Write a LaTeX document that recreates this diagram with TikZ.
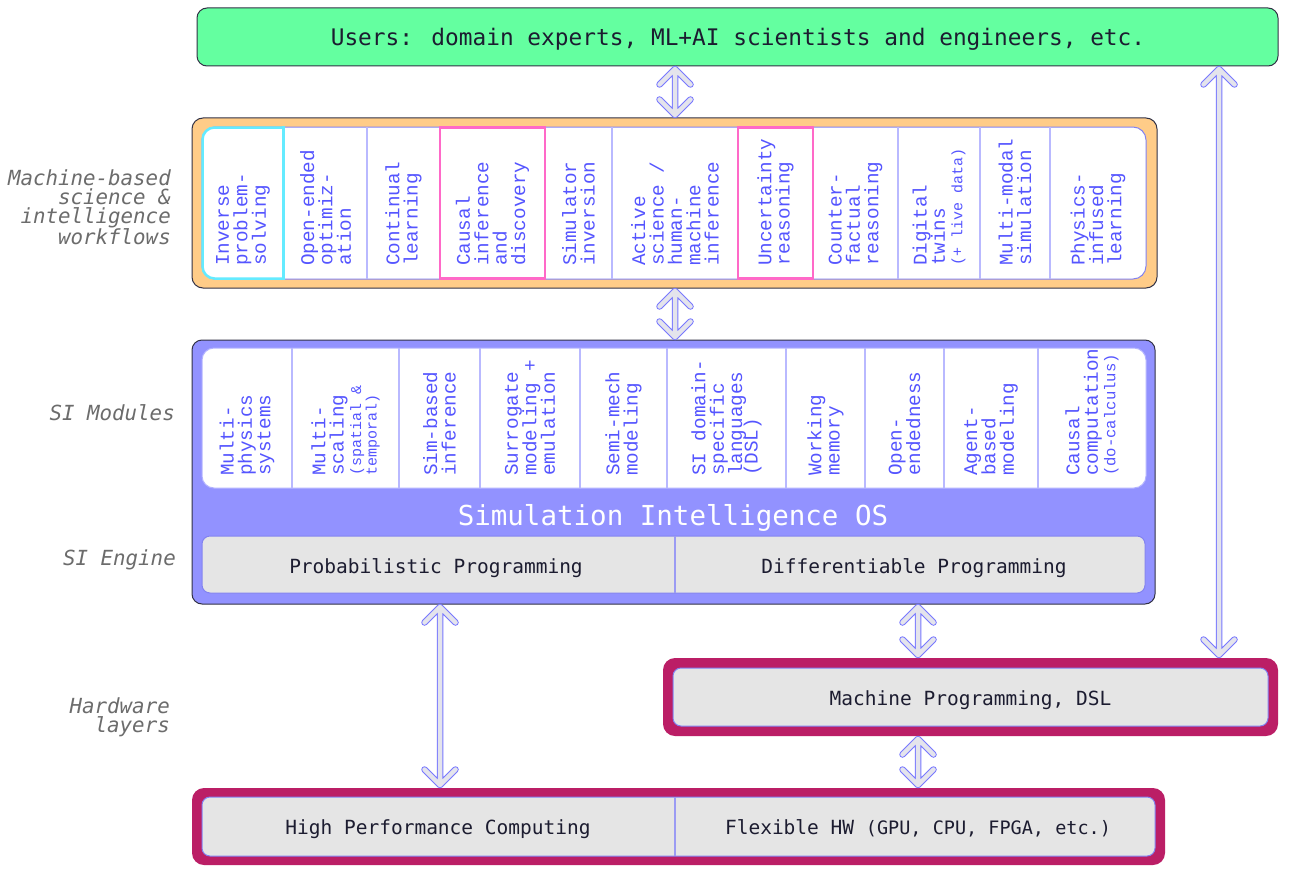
\documentclass[tikz,border=0pt]{standalone}
\usepackage{fontspec}
\setmainfont{DejaVu Sans Mono}
\newfontfamily\cour{Liberation Mono}
\usetikzlibrary{calc}
\definecolor{ugreen}{RGB}{100,255,160}
\definecolor{worange}{RGB}{255,204,136}
\definecolor{siblue}{RGB}{146,146,255}
\definecolor{hwmag}{RGB}{187,30,102}
\definecolor{boxgray}{RGB}{229,229,229}
\definecolor{colblue}{RGB}{85,85,255}
\definecolor{divline}{RGB}{185,185,255}
\definecolor{edgeblue}{RGB}{130,130,240}
\definecolor{darktext}{RGB}{28,28,48}
\definecolor{labgray}{RGB}{108,108,108}
\definecolor{framedark}{RGB}{50,50,70}
\definecolor{pinkbox}{RGB}{255,105,200}
\definecolor{cyanbox}{RGB}{100,235,255}
\definecolor{arrowblue}{RGB}{120,120,255}
\definecolor{arrowfill}{RGB}{228,228,236}
\newcommand\colf{\cour\fontsize{19.3}{18.4}\selectfont}
\newcommand\colsm{\fontsize{15}{15}\selectfont}
\newcommand\colsmb{\fontsize{15.6}{15}\selectfont}
\newcommand\btext{\fontsize{19.5}{22}\selectfont}
\newcommand\labf{\itshape\fontsize{20.8}{19}\selectfont}
\newcommand\biarrow[2]{%
  \path #1 ++(0,3) coordinate (ta);
  \path #2 ++(0,-3) coordinate (tb);
  \draw[arrowout] ($(ta)+(-15.5,15.5)$) -- (ta) -- ($(ta)+(15.5,15.5)$) (ta) -- (tb) ($(tb)+(-15.5,-15.5)$) -- (tb) -- ($(tb)+(15.5,-15.5)$);
  \draw[arrowin] ($(ta)+(-15.5,15.5)$) -- (ta) -- ($(ta)+(15.5,15.5)$) (ta) -- (tb) ($(tb)+(-15.5,-15.5)$) -- (tb) -- ($(tb)+(15.5,-15.5)$);
}
\tikzset{
  frame/.style={draw=framedark, line width=1pt, inner sep=0pt, outer sep=0pt, rounded corners=10pt},
  innerbox/.style={draw=edgeblue, line width=1pt, inner sep=0pt, outer sep=0pt, rounded corners=12pt},
  graybox/.style={draw=edgeblue, fill=boxgray, line width=1pt, inner sep=0pt, outer sep=0pt, rounded corners=8pt},
  magframe/.style={fill=hwmag, draw=none, inner sep=0pt, outer sep=0pt, rounded corners=12pt},
  divider/.style={draw=divline, line width=1.2pt},
  colt/.style={rotate=90, anchor=west, align=left, inner sep=0pt, text=colblue, font=\colf},
  btxt/.style={anchor=base, inner sep=0pt, text=darktext, font=\btext},
  lab/.style={align=right, inner sep=0pt, text=labgray, font=\labf},
  arrowout/.style={draw=arrowblue, line width=6.5pt, line cap=round, line join=round},
  arrowin/.style={draw=arrowfill, line width=4.5pt, line cap=round, line join=round},
  hl/.style={line width=2.5pt}
}
\begin{document}
\begin{tikzpicture}[x=1pt,y=-1pt]
\useasboundingbox[fill=white] (0,0) rectangle (1289,872);

% Users
\node[frame, fill=ugreen, minimum width=1081, minimum height=58] (users) at (737.5,37) {};
\node[btxt, font=\fontsize{22.8}{24}\selectfont] (userst) at (738,46) {Users: domain experts, ML+AI scientists and engineers, etc.};

% Workflows
\node[frame, fill=worange, minimum width=965, minimum height=170, rounded corners=11pt] (wf) at (674.5,203) {};
\node[innerbox, fill=white, minimum width=944, minimum height=152, rounded corners=13pt] (wfin) at (674,203) {};
\foreach \x in {284,367,440,545,612,738,813,898,980,1050}
  \draw[divider] (\x,0 |- wfin.north) -- (\x,0 |- wfin.south);
\draw[cyanbox, hl, rounded corners=12pt] (283.5,127.5) -- (202.5,127.5) -- (202.5,278.5) -- (283.5,278.5);
\draw[cyanbox, hl, line cap=rect] (283.5,127.5) -- (283.5,278.5);
\draw[pinkbox, hl] (440,127.5) rectangle (545,278.5);
\draw[pinkbox, hl] (738,127.5) rectangle (813,278.5);

\node[colt] (w1) at (243,266) {Inverse\\problem-\\solving};
\node[colt] (w2) at (325.5,266) {Open-ended\\optimiz-\\ation};
\node[colt] (w3) at (403.5,266) {Continual\\learning};
\node[colt] (w4) at (492.5,266) {Causal\\inference\\and\\discovery};
\node[colt] (w5) at (578.5,266) {Simulator\\inversion};
\node[colt] (w6) at (675,266) {Active\\science /\\human-\\machine\\inference};
\node[colt] (w7) at (775.5,266) {Uncertainty\\reasoning};
\node[colt] (w8) at (855.5,266) {Counter-\\factual\\reasoning};
\node[colt] (w9) at (939,266) {Digital\\twins\\[-1pt]{\colsm (+ live data)}};
\node[colt] (w10) at (1015,266) {Multi-modal\\simulation};
\node[colt] (w11) at (1098,266) {Physics-\\infused\\learning};

% SI box
\node[frame, fill=siblue, minimum width=963, minimum height=264] (si) at (673.5,472) {};
\node[innerbox, fill=white, draw=siblue!70!white, minimum width=944, minimum height=140] (mods) at (674,418) {};
\foreach \x in {292,399,480,580,667,786,865,944,1038}
  \draw[divider] (\x,0 |- mods.north) -- (\x,0 |- mods.south);
\node[colt] (m1) at (247,476) {Multi-\\physics\\systems};
\node[colt] (m2) at (345.5,476) {Multi-\\scaling\\[-1pt]{\colsm (spatial \&}\\[-3pt]{\colsm temporal)}};
\node[colt] (m3) at (439.5,476) {Sim-based\\inference};
\node[colt] (m4) at (530,476) {Surrogate\\modeling +\\emulation};
\node[colt] (m5) at (623.5,476) {Semi-mech\\modeling};
\node[colt] (m6) at (726.5,476) {SI domain-\\specific\\languages\\[-3pt](DSL)};
\node[colt] (m7) at (825.5,476) {Working\\memory};
\node[colt] (m8) at (904.5,476) {Open-\\endedness};
\node[colt] (m9) at (991,476) {Agent-\\based\\modeling};
\node[colt] (m10) at (1092,476) {Causal\\computation\\[-1pt]{\colsmb (do-calculus)}};

\node[anchor=base, inner sep=0pt, text=white, font=\fontsize{27.5}{30}\selectfont] (os) at (673,525) {Simulation Intelligence OS};

\node[graybox, minimum width=943, minimum height=57] (eng) at (673.5,564.5) {};
\coordinate (xdiv) at (675,0);
\draw[divider, draw=edgeblue!80] (xdiv |- eng.north) -- (xdiv |- eng.south);
\node[btxt] (prob) at (436,573) {Probabilistic Programming};
\node[btxt] (diff) at (914,573) {Differentiable Programming};

% Machine programming
\node[magframe, minimum width=615, minimum height=78] (mp) at (970.5,697) {};
\node[graybox, minimum width=595, minimum height=58] (mpin) at (970.5,697) {};
\node[btxt] (mpt) at (970.5,705) {Machine Programming, DSL};

% Hardware
\node[magframe, minimum width=973, minimum height=77] (hw) at (678.5,826.5) {};
\node[graybox, minimum width=953, minimum height=59] (hwin) at (678.5,826.5) {};
\draw[divider, draw=edgeblue!80] (xdiv |- hwin.north) -- (xdiv |- hwin.south);
\node[btxt] (hpc) at (438,834) {High Performance Computing};
\node[btxt] (flex) at (918,834) {Flexible HW {\fontsize{18.5}{20}\selectfont(GPU, CPU, FPGA, etc.)}};

% Left labels
\node[lab, anchor=east] (lwf) at (171,207) {Machine-based\\science \&\\intelligence\\workflows};
\node[lab, anchor=base east] (lmod) at (175,420) {SI Modules};
\node[lab, anchor=base east] (leng) at (176,565) {SI Engine};
\node[lab, anchor=east] (lhw) at (170,717) {Hardware\\layers};

% Arrows
\coordinate (xa) at (675,0);
\coordinate (xb) at (440,0);
\coordinate (xc) at (918,0);
\coordinate (xd) at (1219,0);
\biarrow{(xa |- users.south)}{(xa |- wf.north)}
\biarrow{(xa |- wf.south)}{(xa |- si.north)}
\biarrow{(xb |- si.south)}{(xb |- hw.north)}
\biarrow{(xc |- si.south)}{(xc |- mp.north)}
\biarrow{(xc |- mp.south)}{(xc |- hw.north)}
\biarrow{(xd |- users.south)}{(xd |- mp.north)}
\end{tikzpicture}
\end{document}
